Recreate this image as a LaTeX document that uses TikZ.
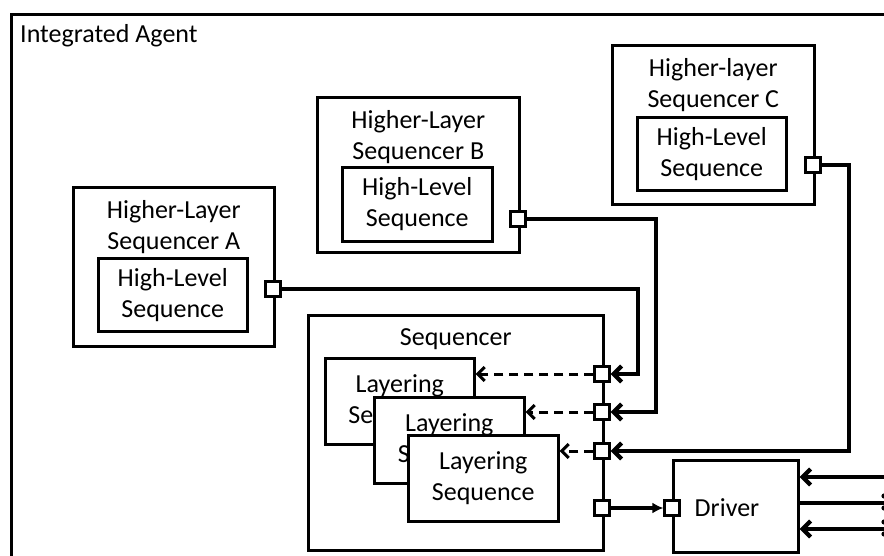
\documentclass[tikz,border=0pt]{standalone}
\usepackage{fontspec}
\setmainfont{Carlito}
\usetikzlibrary{arrows.meta,positioning}

\begin{document}
\begin{tikzpicture}[x=1pt,y=-1pt,
  box/.style={draw,line width=2.6pt,fill=white,inner sep=0pt,anchor=north west},
  txt/.style={font=\fontsize{26}{31}\selectfont,align=center,inner sep=0pt},
  port/.style={draw,line width=2.2pt,fill=white,minimum size=15pt,inner sep=0pt},
  conn/.style={line width=4.2pt,-{Straight Barb[length=8pt,width=16pt]}},
  call/.style={line width=3pt,dash pattern=on 9pt off 6pt,-{Straight Barb[length=7pt,width=14pt]}},
  feed/.style={line width=4.2pt,-{Latex[length=11pt,width=11pt]}}]
\clip (0,0) rectangle (884,556);
\node[box,minimum width=900pt,minimum height=560pt] (agent) at (10,13) {};
\node[txt,anchor=base west] at (20,43) {Integrated Agent};

\node[box,minimum width=201pt,minimum height=159pt] (hsA) at (72,186) {};
\node[txt,anchor=north] at ([yshift=-14pt]hsA.north) {Higher-Layer\\Sequencer A};
\node[box,txt,minimum width=149pt,minimum height=73pt] (hlA) at (97,257) {High-Level\\Sequence};
\node[port] (pA) at (273,289) {};

\node[box,minimum width=202pt,minimum height=155pt] (hsB) at (316,96) {};
\node[txt,anchor=north] at ([yshift=-14pt]hsB.north) {Higher-Layer\\Sequencer B};
\node[box,txt,minimum width=150pt,minimum height=74pt] (hlB) at (341,166) {High-Level\\Sequence};
\node[port] (pB) at (518,219) {};

\node[box,minimum width=202pt,minimum height=159pt] (hsC) at (611,44) {};
\node[txt,anchor=north] at ([yshift=-14pt]hsC.north) {Higher-layer\\Sequencer C};
\node[box,txt,minimum width=149pt,minimum height=73pt] (hlC) at (636,116) {High-Level\\Sequence};
\node[port] (pC) at (813,165) {};

\node[box,minimum width=295pt,minimum height=235pt] (seqr) at (307,314) {};
\node[txt,anchor=north] at ([yshift=-14pt]seqr.north) {Sequencer};
\node[box,txt,minimum width=149pt,minimum height=86pt] (ls1) at (324,357) {Layering\\Sequence};
\node[box,txt,minimum width=150pt,minimum height=86pt] (ls2) at (373,396) {Layering\\Sequence};
\node[box,txt,minimum width=150pt,minimum height=86pt] (ls3) at (407,434) {Layering\\Sequence};

\node[box,minimum width=125pt,minimum height=92pt] (drv) at (672,459) {};
\node[txt] at (727,508) {Driver};

\coordinate (out1) at (884,477);
\coordinate (out2) at (884,503);
\coordinate (out3) at (884,529);

\node[port] (pS1) at (602,374) {};
\node[port] (pS2) at (602,412) {};
\node[port] (pS3) at (602,451) {};
\node[port] (pS4) at (602,508) {};
\node[port] (pD) at (672,508) {};

\draw[conn] (pA.east) -| ([xshift=27pt]pS1.east) -- (pS1.east);
\draw[conn] (pB.east) -| ([xshift=45pt]pS2.east) -- (pS2.east);
\draw[conn] (pC.east) -| ([xshift=238pt]pS3.east) -- (pS3.east);
\draw[call] (pS1.west) -- (ls1.east |- pS1);
\draw[call] (pS2.west) -- (ls2.east |- pS2);
\draw[call] (pS3.west) -- (ls3.east |- pS3);
\draw[feed] (pS4.east) -- (pD.west);
\draw[conn] (out1) -- (out1 -| drv.east);
\draw[line width=4.2pt] (drv.east |- out2) -- (out2);
\draw[conn] (out3) -- (out3 -| drv.east);
\foreach \y in {496,508,522,534}
  \fill (884,\y) circle (2.6pt);

\node[port] at (pS1) {};
\node[port] at (pS2) {};
\node[port] at (pS3) {};
\node[port] at (pS4) {};
\node[port] at (pD) {};
\node[port] at (pA) {};
\node[port] at (pB) {};
\node[port] at (pC) {};
\end{tikzpicture}
\end{document}
